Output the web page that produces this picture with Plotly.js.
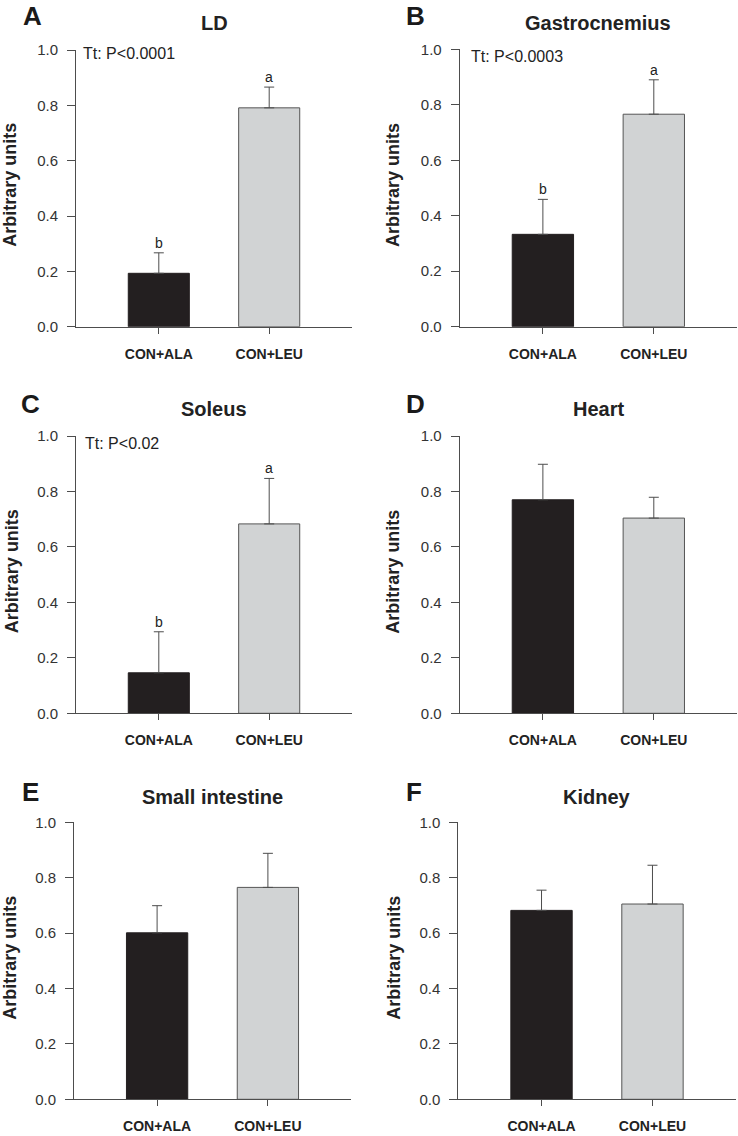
<!DOCTYPE html>
<html>
<head>
<meta charset="utf-8">
<script src="https://cdn.plot.ly/plotly-3.0.1.min.js"></script>
<style>html,body{margin:0;padding:0;background:#fff;} #chart{width:738px;height:1136px;}</style>
</head>
<body>
<div id="chart"></div>
<script>
// ---- data ----
const categories = ['CON+ALA', 'CON+LEU'];
const panelLetters = ['A', 'B', 'C', 'D', 'E', 'F'];
const panelTitles = ['LD', 'Gastrocnemius', 'Soleus', 'Heart', 'Small intestine', 'Kidney'];
const meansALA = [0.193, 0.333, 0.146, 0.770, 0.601, 0.682];
const meansLEU = [0.791, 0.766, 0.683, 0.704, 0.765, 0.705];
const semALA = [0.074, 0.126, 0.148, 0.128, 0.098, 0.073];
const semLEU = [0.075, 0.124, 0.164, 0.075, 0.123, 0.140];
const sigLetters = [['b', 'a'], ['b', 'a'], ['b', 'a'], null, null, null];
const pTexts = ['Tt: P<0.0001', 'Tt: P<0.0003', 'Tt: P<0.02', null, null, null];
const yTickVals = [0, 0.2, 0.4, 0.6, 0.8, 1.0];
const yTickText = ['0.0', '0.2', '0.4', '0.6', '0.8', '1.0'];
const yTitle = 'Arbitrary units';

// ---- layout geometry (pixels) ----
const W = 738, H = 1136;
const boxes = [
  [76, 352, 50, 326.7],
  [459.7, 737, 49.3, 326.7],
  [76, 352, 436, 713.3],
  [459.7, 737, 436, 713.3],
  [74, 351, 822.3, 1099.3],
  [458.3, 735.7, 822.3, 1099.3]
];
const titleY = [23, 23, 409.5, 409.5, 796.5, 796.5];
const letterPos = [[32, 16], [415, 16], [30, 403.5], [415, 403.5], [30.5, 791.5], [414, 791.5]];
const yTitleX = [10.5, 393, 11.5, 393, 10, 394];
const pShift = [[5, -3], [9, -7], [7, -7]];

const px = x => x / W;
const py = y => 1 - y / H;
const FONT = 'Liberation Sans, Arial, Helvetica, sans-serif';
const barColors = ['#231f20', '#d1d3d4'];
const lineCol = '#4d4d4d';

const data = [];
const layout = {
  width: W, height: H,
  margin: {l: 0, r: 0, t: 0, b: 0},
  paper_bgcolor: '#fff', plot_bgcolor: '#fff',
  showlegend: false,
  font: {family: FONT, color: '#222'},
  annotations: []
};

boxes.forEach((b, i) => {
  const n = i + 1;
  const xa = n === 1 ? 'x' : 'x' + n;
  const ya = n === 1 ? 'y' : 'y' + n;
  const xk = n === 1 ? 'xaxis' : 'xaxis' + n;
  const yk = n === 1 ? 'yaxis' : 'yaxis' + n;
  data.push({
    type: 'bar', x: categories, y: [meansALA[i], meansLEU[i]],
    xaxis: xa, yaxis: ya, width: 0.553,
    marker: {color: barColors, line: {color: ['#231f20', '#555'], width: 1}},
    error_y: {type: 'data', symmetric: false, array: [semALA[i], semLEU[i]], arrayminus: [0, 0],
              color: lineCol, thickness: 1, width: 5},
    hoverinfo: 'none'
  });
  layout[xk] = {
    domain: [px(b[0]), px(b[1])], anchor: ya, type: 'category',
    range: [-0.75, 1.75], showline: true, linecolor: lineCol, linewidth: 1,
    ticks: 'outside', ticklen: 6, tickcolor: lineCol, tickwidth: 1,
    showgrid: false, zeroline: false, ticklabelstandoff: 8,
    tickfont: {family: FONT, size: 14, weight: 'bold', color: '#222'}, fixedrange: true
  };
  layout[yk] = {
    domain: [py(b[3]), py(b[2])], anchor: xa,
    range: [0, 1.0], showline: true, linecolor: lineCol, linewidth: 1,
    ticks: 'outside', ticklen: 8, tickcolor: lineCol, tickwidth: 1,
    tickvals: yTickVals, ticktext: yTickText,
    showgrid: false, zeroline: false, ticklabelstandoff: 6,
    tickfont: {family: FONT, size: 15, color: '#333'}, fixedrange: true
  };
  // panel title
  layout.annotations.push({
    xref: 'paper', yref: 'paper', x: px((b[0] + b[1]) / 2), y: py(titleY[i]),
    xanchor: 'center', yanchor: 'middle', showarrow: false,
    text: panelTitles[i], font: {family: FONT, size: 20, weight: 'bold', color: '#222'}
  });
  // panel letter
  layout.annotations.push({
    xref: 'paper', yref: 'paper', x: px(letterPos[i][0]), y: py(letterPos[i][1]),
    xanchor: 'center', yanchor: 'middle', showarrow: false,
    text: panelLetters[i], font: {family: FONT, size: 26, weight: 'bold', color: '#1a1a1a'}
  });
  // y title
  layout.annotations.push({
    xref: 'paper', yref: 'paper', x: px(yTitleX[i]), y: py((b[2] + b[3]) / 2 - 3),
    xanchor: 'center', yanchor: 'middle', showarrow: false, textangle: -90,
    text: yTitle, font: {family: FONT, size: 18, weight: 'bold', color: '#222'}
  });
  // p-value text
  if (pTexts[i]) {
    layout.annotations.push({
      xref: xa + ' domain', yref: ya, x: 0, y: 1.0, xshift: pShift[i][0], yshift: pShift[i][1],
      xanchor: 'left', yanchor: 'middle', showarrow: false,
      text: pTexts[i], font: {family: FONT, size: 16, color: '#222'}
    });
  }
  // significance letters
  if (sigLetters[i]) {
    const tops = [meansALA[i] + semALA[i], meansLEU[i] + semLEU[i]];
    sigLetters[i].forEach((s, j) => {
      layout.annotations.push({
        xref: xa, yref: ya, x: categories[j], y: tops[j],
        xanchor: 'center', yanchor: 'bottom', showarrow: false, yshift: 0,
        text: s, font: {family: FONT, size: 14, color: '#222'}
      });
    });
  }
});

Plotly.newPlot('chart', data, layout, {displayModeBar: false, staticPlot: true});
</script>
</body>
</html>
